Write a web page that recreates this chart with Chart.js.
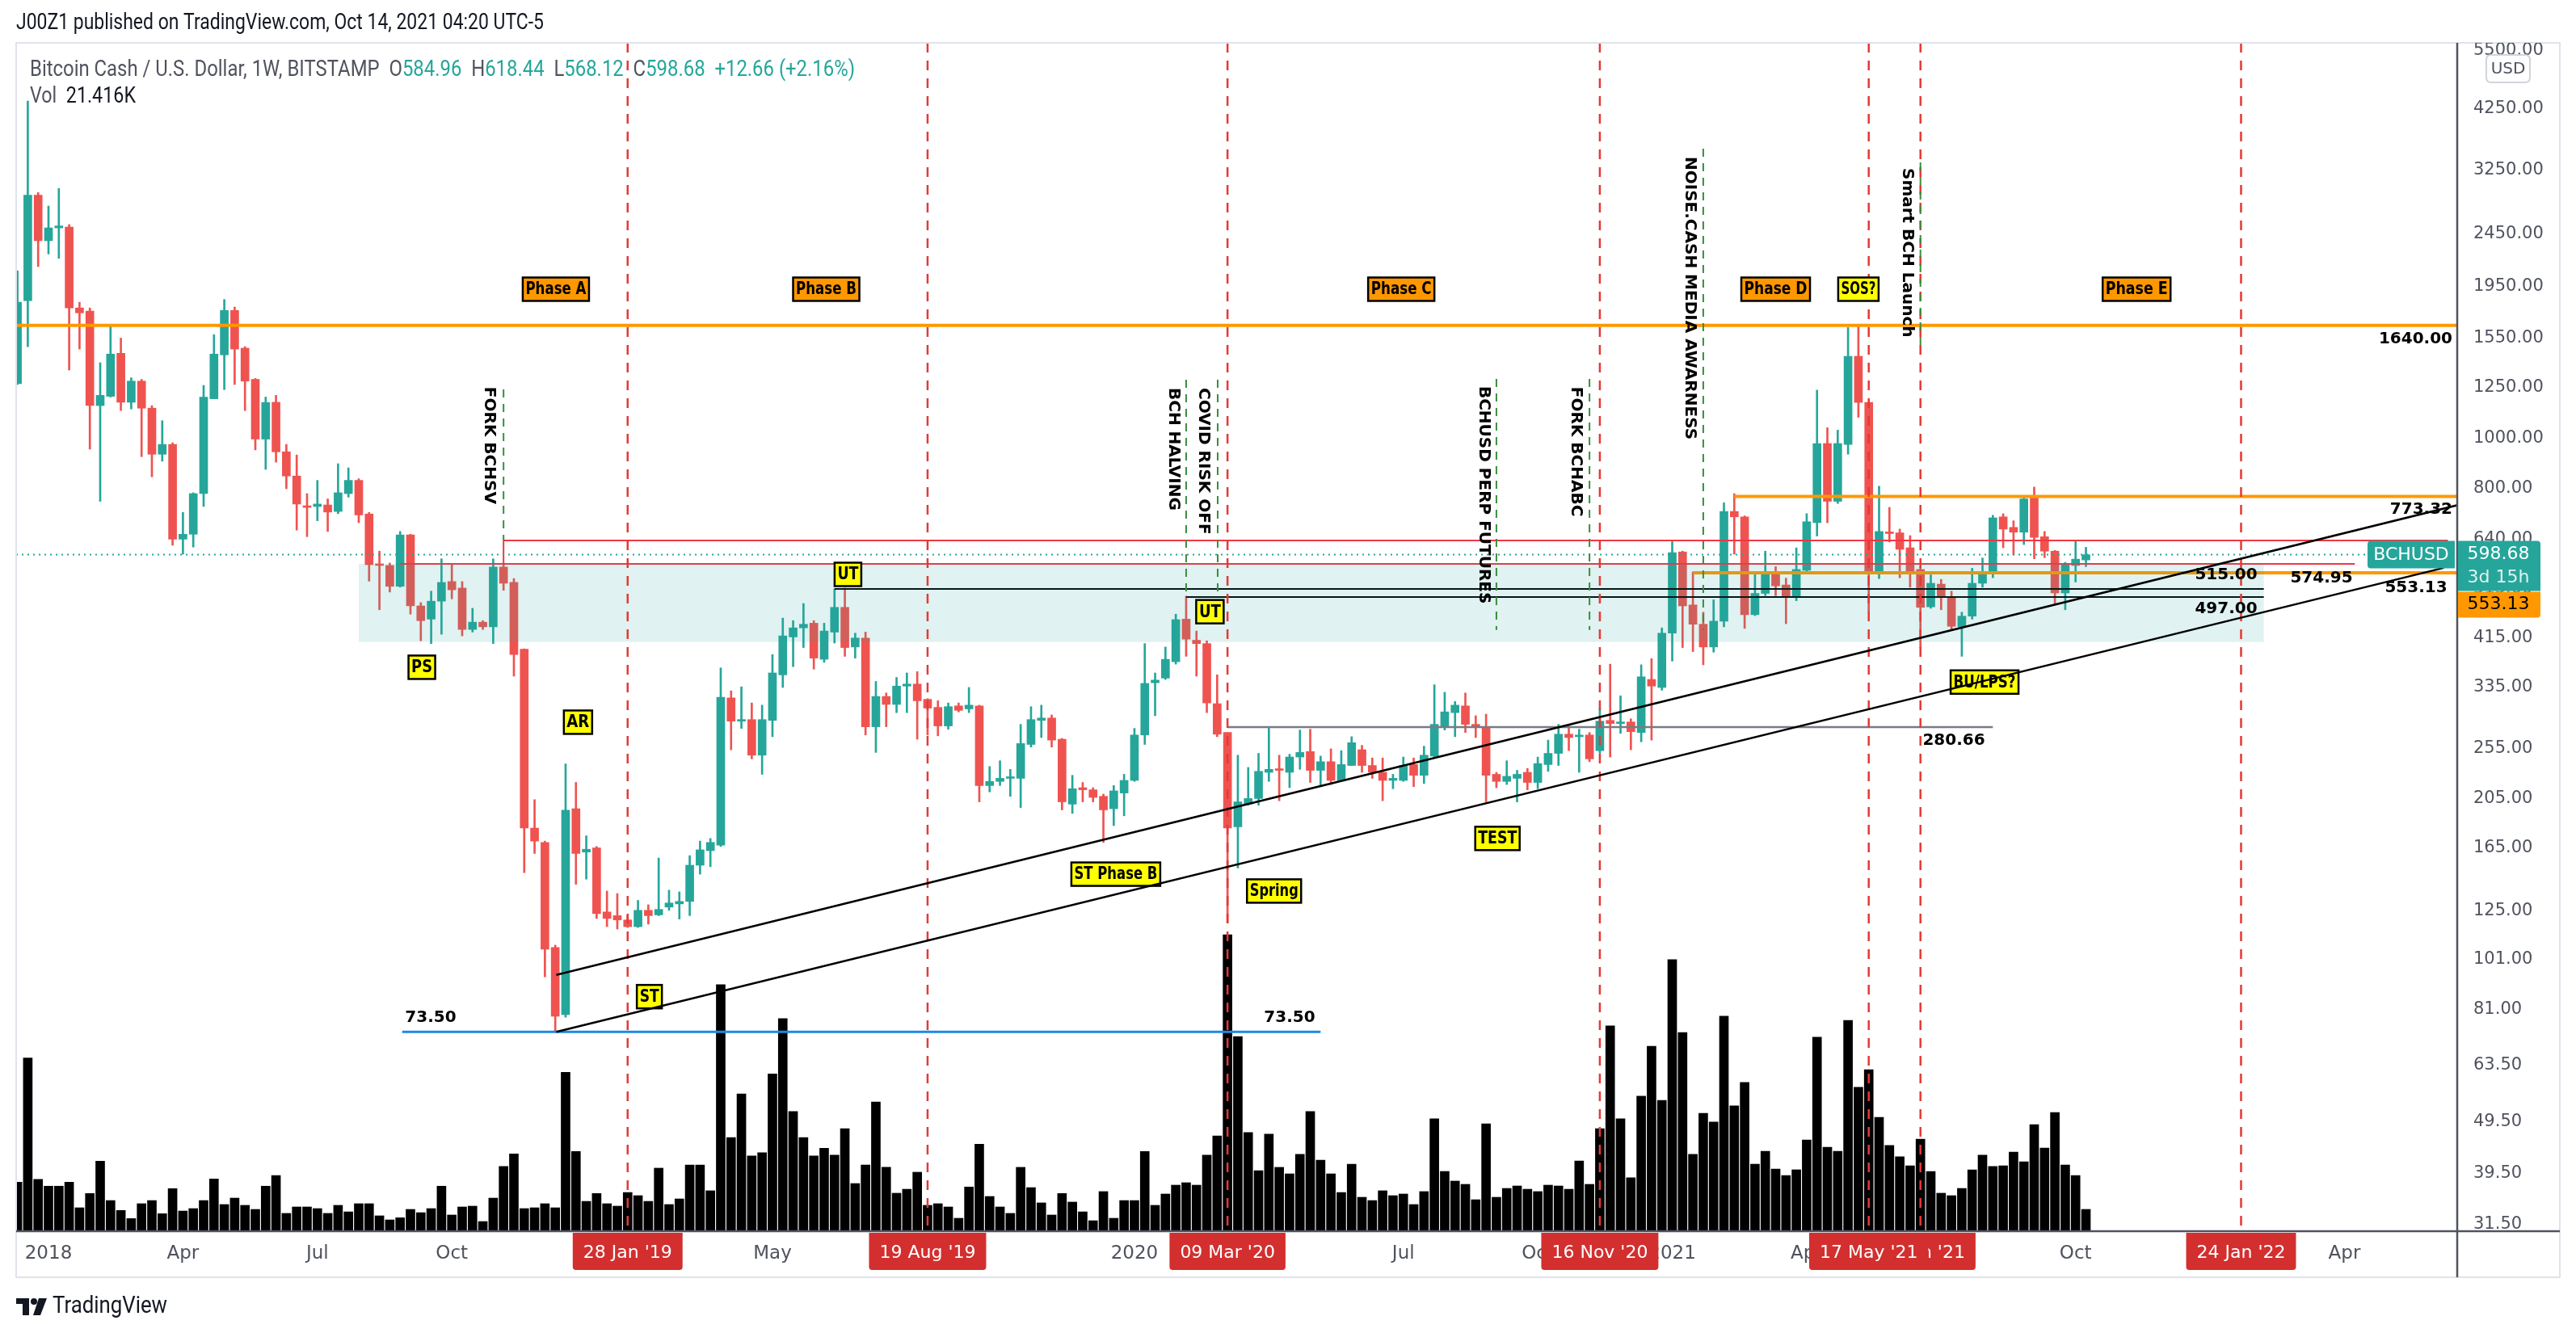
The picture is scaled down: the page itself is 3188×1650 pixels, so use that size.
<!DOCTYPE html>
<html>
<head>
<meta charset="utf-8">
<script src="https://cdn.jsdelivr.net/npm/chart.js@4.4.0/dist/chart.umd.min.js"></script>
<style>
  html, body { margin: 0; padding: 0; background: #fff; }
  canvas { display: block; }
</style>
</head>
<body>
<canvas id="chart" width="3188" height="1650"></canvas>
<script>
// weekly candles BCHUSD (Bitstamp), first candle = week of 11 Dec 2017
// x position = week offset from 1 Jan 2018
const firstWeek = -3;

const opens = [
  1269,1829,2908,2380,2518,2527,1771,1746,1153,1201,
  1451,1170,1284,1140,931,972,641,655,783,1188,
  1441,1752,1484,1294,995,1170,941,846,742,740,
  745,724,783,830,716,575,571,521,653,478,
  451,488,532,517,431,445,436,567,530,395,
  180,169,106.5,79.3,196,162,165,124.5,122.5,120.2,
  116.7,125.4,122.9,127.2,129,130.4,152.9,163,167,319,
  288,290,248,289,353,417,434,443,378,426,
  475,399,415,281,321,310,336,339,317,306,
  282,308,304,308,217,221,224,224,260,289,
  292,266,200,215,213,207,196,210,222,271,
  341,348,374,451,411,405,311,274,181,200,
  205,230,233,230,246,252,232,241,222,237,
  254,237,230,222,222,238,227,247,281,299,
  308,284,280,228,221,224,230,220,238,250,
  272,269,271,253,289,285,287,274,346,334,
  424,606,480,441,399,447,724,707,460,505,
  549,524,498,559,689,976,757,972,1432,1169,
  555,661,659,617,561,476,526,498,436,457,
  528,557,707,675,661,768,648,608,506,571,
  584.96
];
const highs = [
  2085,4398,2941,2772,2995,2555,1816,1771,1392,1639,
  1551,1303,1294,1153,1079,979,721,786,1260,1575,
  1838,1778,1494,1299,1197,1206,972,928,783,830,
  765,893,877,836,721,608,577,663,655,485,
  510,588,573,532,473,448,588,577,539,396,
  204,170,107.6,238.6,220,174,166,136.5,135,122.5,
  131,128.5,157.8,137,136,159.5,170,172,364,329,
  335,312,309,386,453,448,483,448,443,515,
  517,424,426,343,326,349,356,358,318,315,
  312,312,334,309,236,242,233,284,307,309,
  296,267,227,220,215,209,217,228,279,405,
  356,399,461,499,428,410,353,274,248,235,
  250,281,248,249,277,278,247,255,253,269,
  259,245,245,228,246,245,258,338,327,314,
  326,295,297,230,242,232,234,246,265,284,
  283,278,274,304,370,322,291,369,379,434,
  634,608,555,465,491,752,783,710,556,608,
  568,540,617,717,1234,1046,1035,1625,1639,1169,
  809,737,670,651,567,548,537,510,465,564,
  590,712,717,695,775,806,663,610,579,638,
  618.44
];
const lows = [
  1265,1494,2124,2245,2203,1348,1478,952,757,1197,
  1128,1136,921,843,903,624,600,619,740,1188,
  1237,1265,1128,949,871,899,800,667,648,695,
  663,717,771,689,533,470,508,519,461,410,
  405,422,493,419,426,431,405,512,351,148,
  161,93.6,73.5,78.4,140.6,143.8,121,116.7,115.5,116.3,
  116.3,118,122.5,125.4,120.7,122.5,147,151.9,166,254,
  279,244,228,269,334,366,398,362,373,406,
  383,380,271,251,281,299,299,266,271,270,
  278,300,299,202,211,217,207,197,257,268,
  257,195,192,202,202,169,182,190,221,260,
  295,346,370,383,351,299,269,119,151,199,
  199,221,203,215,233,220,217,218,221,237,
  230,224,203,214,221,216,219,246,277,269,
  274,268,202,215,218,202,213,214,231,237,
  253,230,241,250,246,273,254,263,265,330,
  375,398,391,369,390,436,600,433,458,500,
  500,442,489,554,650,689,750,931,1095,466,
  539,633,541,519,398,473,470,430,383,451,
  519,541,617,598,626,588,591,482,470,531,
  568.12
];
const closes = [
  1816,2908,2380,2518,2540,1771,1733,1153,1206,1446,
  1170,1284,1140,931,972,641,655,783,1197,1446,
  1752,1478,1284,995,1169,941,846,748,737,748,
  722,786,830,713,573,571,521,653,478,448,
  488,530,513,431,445,436,567,528,386,180,
  170,105.7,78.7,194.7,161,164,123.6,121,120.2,116.7,
  125.4,122.5,125.9,129.5,130.4,152.9,163.6,169,320,288,
  290,248,290,356,419,434,441,380,428,475,
  398,415,281,321,310,336,339,315,305,282,
  307,302,309,217,221,224,225,261,290,292,
  265,202,214,213,206,195,212,222,271,340,
  345,378,450,413,405,312,272,180,202,205,
  231,233,232,246,251,232,241,222,238,262,
  237,230,222,224,237,227,248,284,300,309,
  284,280,227,221,226,228,220,239,250,272,
  268,270,244,288,285,287,275,350,336,424,
  604,478,441,399,447,724,707,460,505,549,
  522,498,561,692,976,757,976,1432,1169,555,
  663,657,613,555,475,528,498,437,457,528,
  552,704,670,661,765,646,608,506,575,587,
  598.68
];
// volume in thousands of BCH
const volumes = [
  48.1,170,50.8,44.2,44.2,48.1,23,37,68.7,30.1,
  20.4,12.4,27,30.1,17.2,41.8,19.8,22.2,30.1,51.3,
  26.2,32.5,25.4,21.4,44.2,54.7,17.5,23.8,23.8,22.2,
  17.5,25.4,19,27,27,15.1,11.1,13.2,21.4,18.2,
  22.2,44.2,15.9,23.8,24.6,9.5,32.5,63.5,75.9,22.2,
  23,27,23,156,78.3,29.3,37,27,24.6,38,
  34.9,29.3,61.9,26.2,31.7,65,65,39.7,242,92,
  134.8,73.8,77,154.4,208.6,117.4,92,73.8,81.4,74.6,
  100.7,46.8,65,126.9,62.7,37.3,41.2,57.9,25.4,27,
  23.8,12.7,43.4,85.4,34.1,23.8,17.5,62.7,42.8,27.8,
  15.9,37,28.6,19,10.3,38.9,12.7,30.1,30.1,78.3,
  25.4,36.5,45.2,47.6,45.2,74.6,93.6,291,191,96.8,
  59.5,95.2,62.7,56.3,75.4,117.4,69.8,56.3,38,65.8,
  33.3,30.1,39.7,34.9,36.5,26.2,38.9,110.3,58.7,49.2,
  46,30.9,105.5,33.3,42,44.4,41.2,38.9,45.2,44.4,
  41.2,69,46,100.7,201.5,110.3,52.4,132.5,181.6,128.5,
  266.5,195.1,75.4,115.8,107.1,211,123,146,65.8,78.5,
  61,54.7,60.3,89.6,190.4,82.5,78.5,207,141.2,158.6,
  111.8,84.1,73,64.2,90.4,58.7,37.3,34.9,42,60.3,
  74.6,63.5,64.2,77.7,68.2,104.7,81.7,116.6,65,54.7,
  21.416
];

// axis ticks
const priceTicks = [5500, 4250, 3250, 2450, 1950, 1550, 1250, 1000, 800, 640, 515, 415, 335, 255, 205, 165, 125, 101, 81, 63.5, 49.5, 39.5, 31.5];
const timeLabels = ['2018', 'Apr', 'Jul', 'Oct', 'May', '2020', 'Jul', 'Oct', '2021', 'Apr', 'Oct', 'Apr'];
const timeLabelWeeks = [0, 13, 26, 39, 70, 105, 131, 144, 157, 170, 196, 222];

// vertical event lines (red dashed) and their date tags
const eventLabels = ["28 Jan '19", "19 Aug '19", "09 Mar '20", "16 Nov '20", "21 Jun '21", "17 May '21", "24 Jan '22"];
const eventWeeks = [56, 85, 114, 150, 181, 176, 212];

// annotation drawings (price levels in USD, x in weeks)
const levels = [
  { price: 1640, from: -4, to: 233, color: '#ff9800', width: 4, label: '1640.00', lx: 3035, dy: 17, align: 'right' },
  { price: 773.32, from: 163, to: 233, color: '#ff9800', width: 4, label: '773.32', lx: 3035, dy: 16, align: 'right' },
  { price: 637, from: 44, to: 232, color: '#f23645', width: 2 },
  { price: 574.95, from: 34, to: 223, color: '#f23645', width: 2, label: '574.95', lx: 2873, dy: 18, align: 'center' },
  { price: 553.13, from: 159, to: 233, color: '#ff9800', width: 4, label: '553.13', lx: 2990, dy: 19, align: 'center' },
  { price: 515, from: 76, to: 214.2, color: '#000', width: 2, label: '515.00', lx: 2755, dy: -17, align: 'center' },
  { price: 497, from: 110, to: 214.2, color: '#000', width: 2, label: '497.00', lx: 2755, dy: 15, align: 'center' },
  { price: 280.66, from: 114, to: 188, color: '#787b86', width: 2.5, label: '280.66', lx: 2418, dy: 17, align: 'center' },
  { price: 73.5, from: 34.2, to: 123, color: '#1e88e5', width: 3 }
];
const trendLines = [
  { w0: 49.1, p0: 94.4, w1: 233, p1: 745 },
  { w0: 49.1, p0: 73.5, w1: 231.6, p1: 565 }
];
const greenMarks = [
  { week: 44, top: 1238, bottom: 637 },
  { week: 110, top: 1292, bottom: 497 },
  { week: 113.05, top: 1292, bottom: 497 },
  { week: 140, top: 1297, bottom: 430 },
  { week: 149, top: 1297, bottom: 430 },
  { week: 160, top: 3567, bottom: 430 },
  { week: 181, top: 3358, bottom: 1489 }
];
const verticalTexts = [
  { text: 'FORK BCHSV', week: 42.6, top: 1252 },
  { text: 'BCH HALVING', week: 108.75, top: 1247 },
  { text: 'COVID RISK OFF', week: 111.7, top: 1247 },
  { text: 'BCHUSD PERP FUTURES', week: 138.75, top: 1256 },
  { text: 'FORK BCHABC', week: 147.7, top: 1252 },
  { text: 'NOISE.CASH MEDIA AWARNESS', week: 158.7, top: 3443 },
  { text: 'Smart BCH Launch', week: 179.7, top: 3276 }
];
const phaseTags = [
  { text: 'Phase A', week: 49.06, price: 1923, w: 82, bg: '#ff9800' },
  { text: 'Phase B', week: 75.2, price: 1923, w: 82, bg: '#ff9800' },
  { text: 'Phase C', week: 130.8, price: 1923, w: 82, bg: '#ff9800' },
  { text: 'Phase D', week: 167.0, price: 1923, w: 85, bg: '#ff9800' },
  { text: 'SOS?', week: 175.0, price: 1923, w: 50, bg: '#ffff00' },
  { text: 'Phase E', week: 201.9, price: 1923, w: 84, bg: '#ff9800' },
  { text: 'PS', week: 36.1, price: 365, w: 33, bg: '#ffff00' },
  { text: 'AR', week: 51.2, price: 286.7, w: 35, bg: '#ffff00' },
  { text: 'ST', week: 58.1, price: 85.8, w: 31, bg: '#ffff00' },
  { text: 'UT', week: 77.3, price: 549, w: 33, bg: '#ffff00' },
  { text: 'UT', week: 112.3, price: 466, w: 34, bg: '#ffff00' },
  { text: 'ST Phase B', week: 103.2, price: 147, w: 110, bg: '#ffff00' },
  { text: 'Spring', week: 118.5, price: 136.5, w: 67, bg: '#ffff00' },
  { text: 'TEST', week: 140.1, price: 172, w: 55, bg: '#ffff00' },
  { text: 'BU/LPS?', week: 187.2, price: 342, w: 84, bg: '#ffff00' }
];

const UP = '#26a69a', DOWN = '#ef5350';
const FONT = '"DejaVu Sans", "Noto Sans", sans-serif';
const NARROW = 'Roboto, "Liberation Sans", sans-serif';
const TEXT_GRAY = '#50535e';

function line(c, x0, y0, x1, y1, color, width, dash) {
  c.save();
  c.strokeStyle = color;
  c.lineWidth = width;
  c.setLineDash(dash || []);
  c.beginPath();
  c.moveTo(x0, y0);
  c.lineTo(x1, y1);
  c.stroke();
  c.restore();
}

function fitText(c, str, cx, cy, maxW, font, color) {
  c.save();
  c.font = font;
  const w = c.measureText(str).width;
  c.translate(cx, cy);
  if (w > maxW) c.scale(maxW / w, 1);
  c.fillStyle = color;
  c.textAlign = 'center';
  c.textBaseline = 'middle';
  c.fillText(str, 0, 0);
  c.restore();
}

// draw text squeezed to an exact width, left aligned
function squeezeText(c, segs, x, y, width, font) {
  c.save();
  c.font = font;
  const tw = segs.reduce((s, t) => s + c.measureText(t[0]).width, 0);
  c.translate(x, y);
  c.scale(width / tw, 1);
  c.textAlign = 'left';
  c.textBaseline = 'middle';
  let cx = 0;
  segs.forEach(t => {
    c.fillStyle = t[1];
    c.fillText(t[0], cx, 0);
    cx += c.measureText(t[0]).width;
  });
  c.restore();
}

function roundRect(c, x, y, w, h, r) {
  c.beginPath();
  c.moveTo(x + r[0], y);
  c.lineTo(x + w - r[1], y);
  c.quadraticCurveTo(x + w, y, x + w, y + r[1]);
  c.lineTo(x + w, y + h - r[2]);
  c.quadraticCurveTo(x + w, y + h, x + w - r[2], y + h);
  c.lineTo(x + r[3], y + h);
  c.quadraticCurveTo(x, y + h, x, y + h - r[3]);
  c.lineTo(x, y + r[0]);
  c.quadraticCurveTo(x, y, x + r[0], y);
  c.closePath();
}

const overlay = {
  id: 'overlay',
  beforeDraw(chart) {
    const c = chart.ctx;
    c.save();
    c.fillStyle = '#fff';
    c.fillRect(0, 0, chart.width, chart.height);
    c.restore();
  },
  afterDatasetsDraw(chart) {
    const c = chart.ctx, a = chart.chartArea;
    const X = w => chart.scales.x.getPixelForValue(w);
    const Y = p => chart.scales.y.getPixelForValue(p);
    c.save();
    c.beginPath();
    c.rect(a.left, a.top, a.right - a.left, a.bottom - a.top);
    c.clip();

    // horizontal levels
    levels.forEach(l => line(c, X(l.from), Y(l.price), X(l.to), Y(l.price), l.color, l.width));
    line(c, X(44), Y(637), X(44), Y(574.95), '#f23645', 2);

    // last price dotted line
    const lastY = Y(closes[closes.length - 1]);
    line(c, a.left, lastY, 2928, lastY, UP, 2, [2, 5]);

    // trading range zone
    c.fillStyle = 'rgba(38,166,154,0.14)';
    c.fillRect(X(30), Y(575), X(214.2) - X(30), Y(408) - Y(575));

    // red dashed event lines
    eventWeeks.forEach(w => line(c, X(w), a.top, X(w), a.bottom, '#e53935', 2.5, [12, 10]));

    // green dashed markers
    greenMarks.forEach(g => line(c, X(g.week), Y(g.top), X(g.week), Y(g.bottom), '#388e3c', 2, [10, 8]));

    // vertical texts
    c.fillStyle = '#000';
    c.font = 'bold 20px ' + FONT;
    c.textAlign = 'left';
    c.textBaseline = 'middle';
    verticalTexts.forEach(t => {
      c.save();
      c.translate(X(t.week), Y(t.top));
      c.rotate(Math.PI / 2);
      c.fillText(t.text, 0, 0);
      c.restore();
    });

    // phase and event tags
    phaseTags.forEach(t => {
      const cx = X(t.week), cy = Y(t.price), h = 29;
      c.fillStyle = t.bg;
      c.fillRect(cx - t.w / 2, cy - h / 2, t.w, h);
      c.lineWidth = 2.5;
      c.strokeStyle = '#000';
      c.strokeRect(cx - t.w / 2, cy - h / 2, t.w, h);
      fitText(c, t.text, cx, cy + 1, t.w - 7, 'bold 21px ' + FONT, '#000');
    });

    // level value labels
    c.font = 'bold 20px ' + FONT;
    c.fillStyle = '#000';
    c.textBaseline = 'middle';
    levels.forEach(l => {
      if (!l.label) return;
      c.textAlign = l.align;
      c.fillText(l.label, l.lx, Y(l.price) + l.dy);
    });
    c.textAlign = 'center';
    c.fillText('73.50', 533, Y(73.5) - 17);
    c.fillText('73.50', 1596, Y(73.5) - 17);

    // trend lines
    trendLines.forEach(t => line(c, X(t.w0), Y(t.p0), X(t.w1), Y(t.p1), '#000', 2.5));

    c.restore();
  },
  afterDraw(chart) {
    const c = chart.ctx, a = chart.chartArea;
    const X = w => chart.scales.x.getPixelForValue(w);
    const Y = p => chart.scales.y.getPixelForValue(p);
    const frameRight = 3168, frameBottom = 1581;

    // frame and axis separators
    c.save();
    c.strokeStyle = '#e0e3eb';
    c.lineWidth = 2;
    c.strokeRect(a.left, a.top, frameRight - a.left, frameBottom - a.top);
    line(c, a.right, a.top, a.right, frameBottom, '#50535e', 2.5);
    line(c, a.left, a.bottom, frameRight, a.bottom, '#50535e', 2.5);

    // price axis labels
    c.save();
    c.beginPath();
    c.rect(a.right + 2, a.top, frameRight - a.right, a.bottom - a.top);
    c.clip();
    c.font = '21px ' + FONT;
    c.fillStyle = TEXT_GRAY;
    c.textAlign = 'left';
    c.textBaseline = 'middle';
    priceTicks.forEach(p => c.fillText(p.toFixed(2), 3061, Y(p)));
    c.restore();

    // USD badge
    c.fillStyle = '#fff';
    roundRect(c, 3077, 68, 54, 34, [6, 6, 6, 6]);
    c.fill();
    c.strokeStyle = '#d1d4dc';
    c.lineWidth = 2;
    c.stroke();
    c.font = '20px ' + FONT;
    c.fillStyle = TEXT_GRAY;
    c.textAlign = 'center';
    c.textBaseline = 'middle';
    c.fillText('USD', 3104, 86);

    // last price tags
    const lastY = Y(closes[closes.length - 1]);
    c.fillStyle = UP;
    roundRect(c, 2930, lastY - 17, 108, 34, [4, 0, 0, 4]);
    c.fill();
    c.fillStyle = '#fff';
    c.font = '22px ' + FONT;
    c.fillText('BCHUSD', 2984, lastY + 1);
    c.fillStyle = UP;
    roundRect(c, a.right + 1, lastY - 17, 102, 62, [0, 4, 0, 0]);
    c.fill();
    c.fillStyle = '#fff';
    c.fillText(closes[closes.length - 1].toFixed(2), 3092, lastY);
    c.fillStyle = 'rgba(255,255,255,0.85)';
    c.fillText('3d 15h', 3092, lastY + 29);
    c.fillStyle = '#ff9800';
    roundRect(c, a.right + 1, lastY + 46, 102, 32, [0, 0, 4, 0]);
    c.fill();
    c.fillStyle = '#000';
    c.fillText('553.13', 3092, lastY + 62);

    // time axis labels
    c.font = '23px ' + FONT;
    c.fillStyle = TEXT_GRAY;
    timeLabels.forEach((t, i) => c.fillText(t, X(timeLabelWeeks[i]), 1552));

    // event date tags
    c.font = '22px ' + FONT;
    eventLabels.forEach((t, i) => {
      const cx = X(eventWeeks[i]);
      const w = c.measureText(t).width + 26;
      c.fillStyle = '#d32f2f';
      roundRect(c, cx - w / 2, a.bottom + 2, w, 46, [0, 0, 4, 4]);
      c.fill();
      c.fillStyle = '#fff';
      c.fillText(t, cx, 1551);
    });

    // title
    squeezeText(c, [['J00Z1 published on TradingView.com, Oct 14, 2021 04:20 UTC-5', '#131722']], 20, 29, 653, '27px ' + NARROW);

    // legend
    squeezeText(c, [
      ['Bitcoin Cash / U.S. Dollar, 1W, BITSTAMP  ', TEXT_GRAY], ['O', TEXT_GRAY], ['584.96', UP],
      ['  H', TEXT_GRAY], ['618.44', UP], ['  L', TEXT_GRAY], ['568.12', UP],
      ['  C', TEXT_GRAY], ['598.68', UP], ['  +12.66 (+2.16%)', UP]
    ], 37, 87, 1021, '27px ' + NARROW);
    squeezeText(c, [['Vol  ', TEXT_GRAY], [volumes[volumes.length - 1].toFixed(3) + 'K', '#131722']], 37, 120, 131, '27px ' + NARROW);

    // TradingView logo
    c.fillStyle = '#131722';
    c.fillRect(20, 1607, 16, 7);
    c.fillRect(28, 1607, 8, 21);
    c.beginPath();
    c.arc(42, 1611, 4, 0, Math.PI * 2);
    c.fill();
    c.beginPath();
    c.moveTo(48, 1607);
    c.lineTo(58, 1607);
    c.lineTo(50, 1628);
    c.lineTo(41, 1628);
    c.closePath();
    c.fill();
    squeezeText(c, [['TradingView', '#131722']], 65, 1618, 142, '29px ' + NARROW);

    c.restore();
  }
};

const colors = opens.map((o, i) => closes[i] >= o ? UP : DOWN);
const bodyData = opens.map((o, i) => ({ x: i + firstWeek, y: [o, closes[i]] }));
const wickData = opens.map((o, i) => ({ x: i + firstWeek, y: [lows[i], highs[i]] }));
const volData = volumes.map((v, i) => ({ x: i + firstWeek, y: v }));

new Chart(document.getElementById('chart').getContext('2d'), {
  type: 'bar',
  data: {
    datasets: [
      { data: bodyData, backgroundColor: colors, barThickness: 10, minBarLength: 2, grouped: false, order: 1, yAxisID: 'y' },
      { data: wickData, backgroundColor: colors, barThickness: 2, grouped: false, order: 2, yAxisID: 'y' },
      { data: volData, backgroundColor: '#000', barThickness: 11, grouped: false, order: 3, yAxisID: 'yv' }
    ]
  },
  options: {
    responsive: false,
    animation: false,
    devicePixelRatio: 1,
    layout: { padding: { left: 20, top: 53, right: 147, bottom: 126 } },
    plugins: { legend: { display: false }, tooltip: { enabled: false } },
    scales: {
      x: { type: 'linear', min: -3.125, max: 232.9, offset: false, bounds: 'data', display: false },
      y: { type: 'logarithmic', min: 30.6, max: 5680, bounds: 'data', display: false },
      yv: { type: 'linear', min: 0, max: 1166.5, display: false }
    }
  },
  plugins: [overlay]
});
</script>
</body>
</html>
